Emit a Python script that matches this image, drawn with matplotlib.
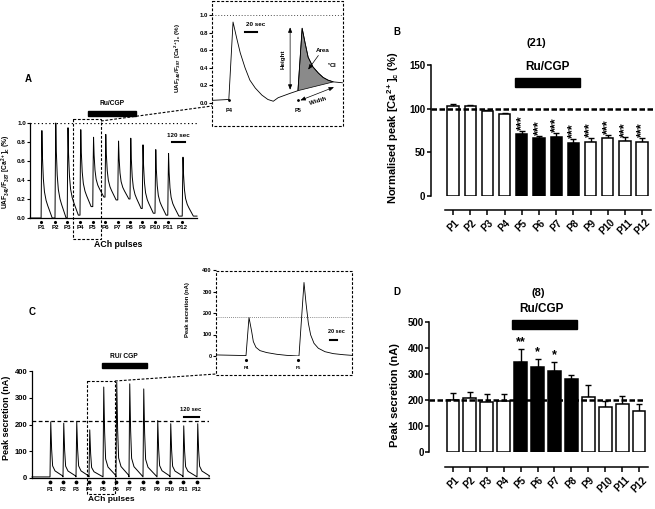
import numpy as np
import matplotlib.pyplot as plt
from matplotlib.patches import Rectangle

W, H = 655, 509
plt.rcParams['font.family'] = ['Liberation Sans', 'DejaVu Sans']
plt.rcParams['font.weight'] = 'bold'
plt.rcParams['mathtext.fontset'] = 'custom'
plt.rcParams['mathtext.rm'] = 'Liberation Sans:bold'
plt.rcParams['mathtext.bf'] = 'Liberation Sans:bold'
plt.rcParams['mathtext.it'] = 'Liberation Sans:italic:bold'
plt.rcParams['mathtext.sf'] = 'Liberation Sans:bold'
plt.rcParams['mathtext.default'] = 'rm'
plt.rcParams['axes.linewidth'] = 0.9

pulses = ['P%d' % i for i in range(1, 13)]
treated = [False] * 4 + [True] * 4 + [False] * 4

# A: [Ca2+]c trace, pulse onsets (s), peaks and level at each onset (last = end of record)
a_times = [100, 225, 335, 450, 565, 675, 790, 900, 1010, 1125, 1240, 1370]
a_peaks = [0.92, 1.0, 0.95, 0.93, 0.85, 0.88, 0.81, 0.84, 0.77, 0.72, 0.68, 0.64]
a_floor = [0.0, 0.0, 0.0, 0.03, 0.12, 0.22, 0.19, 0.20, 0.10, 0.05, 0.03, 0.02, 0.02]
a_shape_t = [0, 3, 7, 12, 20, 30, 45, 60, 80, 100]
a_shape_f = [0, 0.5, 1.0, 0.7, 0.45, 0.3, 0.2, 0.14, 0.07, 0.0]

# A inset: P4 and P5 transients
ai_t = [0, 28, 35, 41, 47, 55, 63, 72, 83, 93, 102, 110, 118, 130, 143,
        150, 155, 160, 168, 177, 185, 193, 202, 217]
ai_y = [0.03, 0.04, 0.92, 0.74, 0.57, 0.40, 0.26, 0.17, 0.09, 0.04, 0.02, 0.06, 0.08, 0.11, 0.14,
        0.85, 0.68, 0.52, 0.41, 0.34, 0.29, 0.26, 0.24, 0.23]
ai_pulses = [28, 143]
area_t = (143, 202)

# C: secretion trace
c_times = [144, 248, 352, 456, 568, 672, 776, 888, 1000, 1104, 1208, 1320]
c_peaks = [210, 205, 210, 180, 340, 358, 352, 333, 215, 203, 195, 203]
c_floor = [4] * 13
c_shape_t = [0, 6, 13, 21, 40, 80, 100]
c_shape_f = [0, 1.0, 0.5, 0.2, 0.11, 0.05, 0.02]

# C inset
ci_t = [0, 90, 99, 107, 112, 120, 132, 152, 182, 212, 247, 249, 264, 270, 277, 284, 294,
        307, 327, 352, 382, 407]
ci_y = [5, 2, 179, 114, 67, 40, 25, 16, 8, 3, 0, 1, 342, 246, 153, 98, 59,
        36, 20, 11, 6, 3]
ci_pulses = [90, 247]

# B: normalised peak [Ca2+]c, n=21
b_means = [103, 103, 97, 94, 71, 66, 67, 61, 62, 66, 63, 62]
b_sem = [2, 1, 2, 1, 3, 3, 5, 4, 4, 4, 4, 4]
b_stars = [''] * 4 + ['***'] * 8

# D: peak secretion, n=8
d_means = [200, 207, 192, 196, 347, 327, 313, 281, 211, 174, 185, 159]
d_sem = [28, 25, 30, 26, 48, 31, 32, 14, 47, 22, 32, 25]
d_stars = [''] * 4 + ['**', '*', '*'] + [''] * 5

fig = plt.figure(figsize=(W / 100, H / 100), dpi=100)


def px_axes(left, top, right, bottom):
    return fig.add_axes([left / W, 1 - bottom / H, (right - left) / W, (bottom - top) / H])


def trace(times, peaks, floors, shape_t, shape_f, t_end):
    t, y = [0], [floors[0]]
    for i, t0 in enumerate(times):
        nxt = floors[i + 1]
        t.append(t0)
        y.append(floors[i])
        for dt, f in zip(shape_t[1:], shape_f[1:]):
            t.append(t0 + dt)
            y.append(nxt + (peaks[i] - nxt) * f)
    t.append(t_end)
    y.append(floors[-1])
    return t, y


def trace_axes(ax):
    for s in ['top', 'right']:
        ax.spines[s].set_visible(False)
    ax.set_xticks([])


# ---- A main
ax = px_axes(30, 123, 197, 218)
t, y = trace(a_times, a_peaks, a_floor, a_shape_t, a_shape_f, 1503)
ax.plot(t, y, color='k', lw=0.7, clip_on=False)
ax.axhline(1.0, color='k', ls=(0, (1, 2)), lw=0.9)
ax.set_xlim(0, 1503)
ax.set_ylim(0, 1)
trace_axes(ax)
ax.set_yticks(np.arange(0, 1.01, 0.2))
ax.yaxis.set_major_formatter('{x:.1f}')
ax.tick_params(axis='y', labelsize=4.5, length=2, width=0.8, pad=1)
tr = ax.get_xaxis_transform()
ax.plot(a_times, [-0.042] * 12, 'k.', ms=2.5, transform=tr, clip_on=False)
for tt, lab in zip(a_times, pulses):
    ax.text(tt, -0.105, lab, transform=tr, ha='center', va='center', fontsize=4.5)
ax.text(0.53, -0.28, 'ACh pulses', transform=ax.transAxes, ha='center', va='center', fontsize=6.3)
ax.plot([1278, 1398], [0.8, 0.8], color='k', lw=1.5)
ax.text(1338, 0.87, '120 sec', ha='center', va='center', fontsize=4.5)

# ---- A inset
ai = px_axes(212, 15, 343, 103)
ai.plot(ai_t, ai_y, color='k', lw=0.6)
area = [(tt, yy) for tt, yy in zip(ai_t, ai_y) if area_t[0] <= tt <= area_t[1]]
ai.fill([p[0] for p in area], [p[1] for p in area], color='#8a8a8a', ec='k', lw=0.5)
ai.axhline(1.0, color='0.3', ls=(0, (1, 2)), lw=0.7)
ai.set_xlim(0, 218)
ai.set_ylim(0, 1)
for s in ai.spines.values():
    s.set_visible(False)
ai.set_xticks([])
ai.set_yticks(np.arange(0, 1.01, 0.2))
ai.yaxis.set_major_formatter('{x:.1f}')
ai.tick_params(axis='y', labelsize=4.3, length=2, width=0.8, pad=1)
tri = ai.get_xaxis_transform()
ai.plot(ai_pulses, [0.034] * 2, 'k.', ms=2, transform=tri, clip_on=False)
for tt, lab in zip(ai_pulses, ['P4', 'P5']):
    ai.text(tt, -0.08, lab, transform=tri, ha='center', va='center', fontsize=4)
ai.plot([55, 75], [0.81, 0.81], color='k', lw=1.5)
ai.text(72, 0.89, '20 sec', ha='center', va='center', fontsize=4.5)
arr = dict(arrowstyle='<|-|>,head_length=0.3,head_width=0.12', color='k', lw=0.5,
           shrinkA=0, shrinkB=0)
ai.annotate('', xy=(130, 0.86), xytext=(130, 0.15), arrowprops=arr)
ai.text(118, 0.5, 'Height', rotation=90, ha='center', va='center', fontsize=4.5)
ai.text(184, 0.60, 'Area', ha='center', va='center', fontsize=4.5)
ai.annotate('', xy=(160, 0.38), xytext=(177, 0.54),
            arrowprops=dict(arrowstyle='-|>,head_length=0.3,head_width=0.12', color='k', lw=0.5,
                            shrinkA=0, shrinkB=0))
ai.text(200, 0.42, r'$^{\tau}$Cl', ha='center', va='center', fontsize=4.5)
ai.annotate('', xy=(203, 0.18), xytext=(147, 0.03), arrowprops=arr, annotation_clip=False)
ai.text(176, 0.02, 'Width', rotation=17, ha='center', va='center', fontsize=4.5)

# ---- C main
ac = px_axes(32, 371, 209, 478)
t, y = trace(c_times, c_peaks, c_floor, c_shape_t, c_shape_f, 1416)
ac.plot(t, y, color='k', lw=0.7, clip_on=False)
ac.axhline(212, color='k', ls=(0, (3, 2)), lw=0.9)
ac.set_xlim(0, 1416)
ac.set_ylim(0, 400)
trace_axes(ac)
ac.set_yticks(np.arange(0, 401, 100))
ac.tick_params(axis='y', labelsize=5.5, length=2.5, width=0.8, pad=1)
trc = ac.get_xaxis_transform()
ac.plot(c_times, [-0.04] * 12, 'k.', ms=3.5, transform=trc, clip_on=False)
for tt, lab in zip(c_times, pulses):
    ac.text(tt, -0.105, lab, transform=trc, ha='center', va='center', fontsize=4)
ac.text(0.45, -0.2, 'ACh pulses', transform=ac.transAxes, ha='center', va='center', fontsize=6)
ac.plot([1216, 1336], [228, 228], color='k', lw=1.5)
ac.text(1270, 255, '120 sec', ha='center', va='center', fontsize=4.2)

# ---- C inset
ci = px_axes(216, 270, 352, 356)
ci.plot(ci_t, ci_y, color='k', lw=0.6)
ci.axhline(182, color='0.4', ls=(0, (1, 1.5)), lw=0.6)
ci.set_xlim(0, 408)
ci.set_ylim(0, 400)
for s in ci.spines.values():
    s.set_visible(False)
ci.set_xticks([])
ci.set_yticks(np.arange(0, 401, 100))
ci.tick_params(axis='y', labelsize=4, length=2, width=0.8, pad=1)
trci = ci.get_xaxis_transform()
ci.plot(ci_pulses, [-0.047] * 2, 'k.', ms=2.5, transform=trci, clip_on=False)
for tt, lab in zip(ci_pulses, ['P4', 'P5']):
    ci.text(tt, -0.14, lab, transform=trci, ha='center', va='center', fontsize=3.2)
ci.plot([343, 363], [74, 74], color='k', lw=1.5)
ci.text(360, 112, '20 sec', ha='center', va='center', fontsize=4)


# ---- B and D bar charts
def bar_panel(rect, means, sem, stars, ref, ylim, yticks, width, off, star_rot, star_gap, dash_to):
    axb = px_axes(*rect)
    x = np.arange(len(means))
    colors = ['k' if t else 'w' for t in treated]
    axb.bar(x, means, width=width, color=colors, edgecolor='k', lw=1.1, zorder=2)
    axb.errorbar(x, means, yerr=[np.zeros(len(sem)), sem], fmt='none', ecolor='k',
                 elinewidth=1, capsize=2.5, capthick=1, zorder=1)
    for xi, m, e, s in zip(x, means, sem, stars):
        if s:
            axb.text(xi, m + e + star_gap, s, rotation=star_rot, ha='center', va='bottom',
                     fontsize=9, clip_on=False)
    axb.set_xlim(-0.5, 11.5)
    axb.set_ylim(*ylim)
    for s in ['top', 'right']:
        axb.spines[s].set_visible(False)
    axb.spines['left'].set_position(('outward', off))
    axb.spines['bottom'].set_position(('outward', off))
    axb.spines['left'].set_linewidth(1.1)
    axb.spines['bottom'].set_linewidth(1.1)
    axb.set_yticks(yticks)
    axb.set_xticks(x, pulses, rotation=45, ha='center', va='top')
    axb.tick_params(axis='y', labelsize=7, length=3, width=1.1, pad=1)
    axb.tick_params(axis='x', labelsize=7, length=3.5, width=1.1, pad=2)
    left = -off / 72 * 100 / (rect[2] - rect[0])
    axb.axhline(ref, xmin=left, xmax=dash_to, color='k', ls=(0, (2.2, 1)), lw=1.8,
                clip_on=False, zorder=5)
    return axb


bar_panel((444.5, 65, 650.7, 196), b_means, b_sem, b_stars, 100, (0, 150), [0, 50, 100, 150],
          0.66, 10, 90, 1, 1.02)
bar_panel((444.5, 322, 647.5, 452), d_means, d_sem, d_stars, 200, (0, 500),
          np.arange(0, 501, 100), 0.76, 11, 0, 3, 0.99)

# ---- decorations in figure pixels
deco = fig.add_axes([0, 0, 1, 1], zorder=10)
deco.set_xlim(0, W)
deco.set_ylim(H, 0)
deco.axis('off')
dash = dict(color='k', ls=(0, (2.5, 1.5)), lw=0.8)
for (x0, y0, x1, y1) in [(73, 119, 101, 239), (212, 1, 343, 126),
                         (87, 381, 115, 494), (216, 271, 352, 375)]:
    deco.add_patch(Rectangle((x0, y0), x1 - x0, y1 - y0, fill=False, **dash))
deco.plot([101, 212], [121, 106], **dash)
deco.plot([115, 216], [381, 374], **dash)
for (x0, y0, x1, y1) in [(88, 111, 136, 116), (102, 363, 147, 368),
                         (515, 78, 580, 87), (512, 320, 577, 329)]:
    deco.add_patch(Rectangle((x0, y0), x1 - x0, y1 - y0, color='k'))
deco.text(112, 103, 'Ru/CGP', ha='center', va='center', fontsize=4.8)
deco.text(124, 357, 'RU/ CGP', ha='center', va='center', fontsize=4.8)
deco.text(536, 43, '(21)', ha='center', va='center', fontsize=8)
deco.text(547, 67, 'Ru/CGP', ha='center', va='center', fontsize=8.5)
deco.text(538, 293, '(8)', ha='center', va='center', fontsize=8)
deco.text(541, 309, 'Ru/CGP', ha='center', va='center', fontsize=8.5)
for lab, (x0, y0) in zip('ABCD', [(28, 79), (397, 32), (32, 312), (397, 292)]):
    deco.text(x0, y0, lab, ha='center', va='center', fontsize=7)
ca_lab = r'UAF$_{340}$/F$_{387}$ [Ca$^{2+}$]$_c$ (%)'
deco.text(6, 172, ca_lab, rotation=90, ha='center', va='center', fontsize=4.8)
deco.text(178, 58, ca_lab, rotation=90, ha='center', va='center', fontsize=4.5)
deco.text(7, 418, 'Peak secretion (nA)', rotation=90, ha='center', va='center', fontsize=6.5)
deco.text(188, 310, 'Peak secretion (nA)', rotation=90, ha='center', va='center', fontsize=4.2)
deco.text(393, 128, r'Normalised peak [Ca$^{2+}$]$_c$ (%)', rotation=90, ha='center',
          va='center', fontsize=8)
deco.text(395, 395, 'Peak secretion (nA)', rotation=90, ha='center', va='center', fontsize=8)

fig.savefig('out.png', dpi=100)
